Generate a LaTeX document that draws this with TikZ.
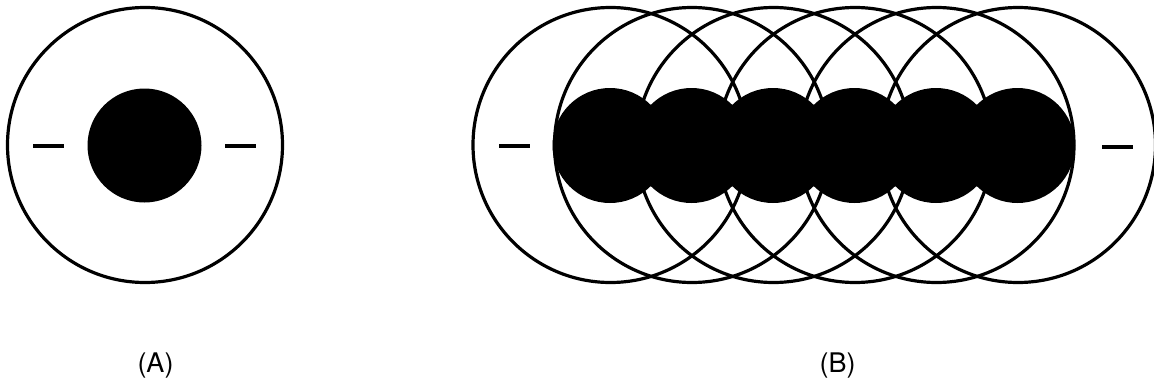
\documentclass[tikz,border=0pt]{standalone}
\usepackage{fontspec}
\setmainfont{TeX Gyre Heros}
\begin{document}
\begin{tikzpicture}[x=1pt,y=-1pt,
  ring/.style={draw=black,line width=3.2pt},
  core/.style={fill=black},
  dashmark/.style={draw=black,line width=3.6pt},
  lbl/.style={font=\fontsize{27}{32}\selectfont,inner sep=0pt,anchor=base}]
\useasboundingbox (0,0) rectangle (1154,391);
% Part A
\fill[core] (144.5,145.5) circle (57);
\draw[ring] (145,145) circle (137.5);
\draw[dashmark] (33,146) -- (64,146);
\draw[dashmark] (225,146) -- (256,146);
\node[lbl] (la) at (155.5,372) {(A)};
% Part B
\foreach \i in {0,...,5}{
  \fill[core] (610+81.5*\i,145.5) circle (57.5);
}
\foreach \i in {0,...,5}{
  \draw[ring] (610.5+81.5*\i,145) circle (137.5);
}
\draw[dashmark] (499,146) -- (530,146);
\draw[dashmark] (1102,147) -- (1133,147);
\node[lbl] (lb) at (837.5,372) {(B)};
\end{tikzpicture}
\end{document}
